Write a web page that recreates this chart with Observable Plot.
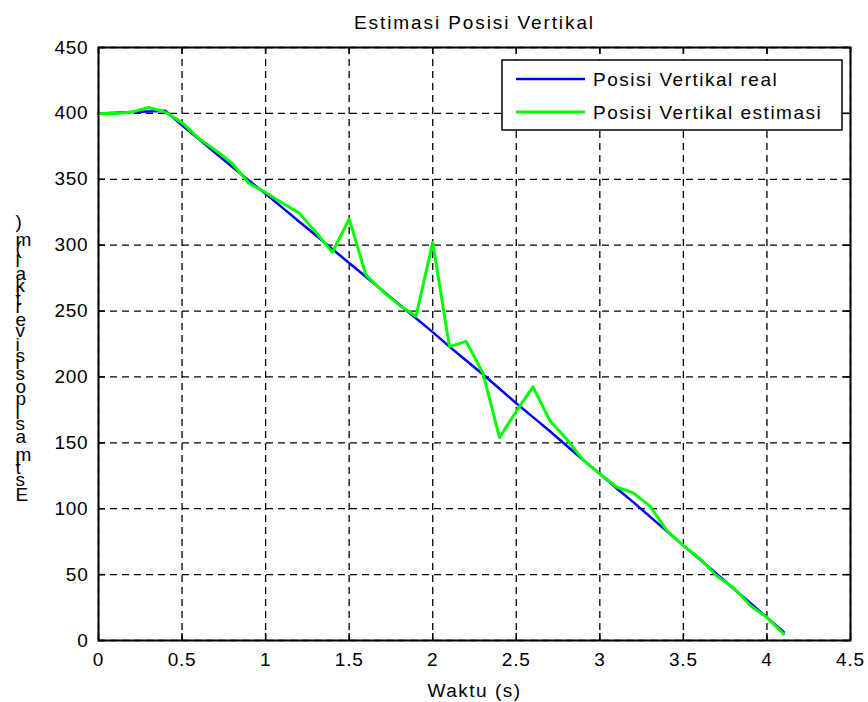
<!DOCTYPE html>
<html>
<head>
<meta charset="utf-8">
<script src="https://cdn.jsdelivr.net/npm/d3@7"></script>
<script src="https://cdn.jsdelivr.net/npm/@observablehq/plot@0.6"></script>
<style>
  html, body { margin: 0; padding: 0; background: #fff; }
  #chart { position: relative; width: 868px; height: 702px; }
  svg { font-family: "Liberation Sans", Arial, sans-serif; }
</style>
</head>
<body>
<div id="chart"></div>
<script>
// ---- data ----
const time = [0, 0.1, 0.2, 0.3, 0.4, 0.5, 0.6, 0.7, 0.8, 0.9,
              1.0, 1.1, 1.2, 1.3, 1.4, 1.5, 1.6, 1.7, 1.8, 1.9,
              2.0, 2.1, 2.2, 2.3, 2.4, 2.5, 2.6, 2.7, 2.8, 2.9,
              3.0, 3.1, 3.2, 3.3, 3.4, 3.5, 3.6, 3.7, 3.8, 3.9,
              4.0, 4.1];
const posReal = [400, 400.5, 401, 401.5, 402, 391, 380.5, 370, 359.5, 349,
                 339, 328.5, 318, 307.5, 297, 286.5, 276, 265.5, 255, 244.5,
                 234, 223, 212.5, 202, 191, 180, 169.5, 159, 148, 137,
                 126.5, 115.5, 105, 94, 83, 72, 61.5, 50.5, 39.5, 28.5,
                 17.5, 6.5];
const posEstimasi = [400, 400, 401, 404.5, 401, 393, 381, 372, 362, 347,
                     340, 332, 324.5, 310, 294.5, 320, 277.5, 265, 254.5, 246,
                     302, 223, 227, 203, 154, 174, 192.5, 167, 153, 137,
                     126.5, 116.5, 112, 102, 83.5, 72, 62, 49, 40, 26.5,
                     17.5, 5];
const seriesNames = ["Posisi Vertikal real", "Posisi Vertikal estimasi"];
const seriesColors = ["#0000ff", "#00ff00"];
const xTicks = [0, 0.5, 1, 1.5, 2, 2.5, 3, 3.5, 4, 4.5];
const yTicks = [0, 50, 100, 150, 200, 250, 300, 350, 400, 450];
const titleText = "Estimasi Posisi Vertikal";
const xLabel = "Waktu (s)";
const yLabel = "Estimasi posisi vertikal (m)";

// ---- build ----
const W = 868, H = 702;
const mL = 98, mR = 18, mT = 47, mB = 62;
const plotW = W - mL - mR, plotH = H - mT - mB;
const FONT = "Liberation Sans, Arial, sans-serif";

const realData = time.map((t, i) => ({t, v: posReal[i]}));
const estData = time.map((t, i) => ({t, v: posEstimasi[i]}));

const plot = Plot.plot({
  width: W, height: H,
  marginLeft: mL, marginRight: mR, marginTop: mT, marginBottom: mB,
  style: {fontFamily: FONT, fontSize: "19px", color: "black", background: "white"},
  x: {domain: [0, 4.5], axis: null},
  y: {domain: [0, 450], axis: null},
  marks: [
    Plot.gridX(xTicks, {stroke: "black", strokeOpacity: 1, strokeWidth: 1.3, strokeDasharray: "7,5"}),
    Plot.gridY(yTicks, {stroke: "black", strokeOpacity: 1, strokeWidth: 1.3, strokeDasharray: "7,5"}),
    // inward ticks on all four sides
    Plot.tickX(xTicks, {x: d => d, insetTop: plotH - 7, stroke: "black", strokeWidth: 1.5}),
    Plot.tickX(xTicks, {x: d => d, insetBottom: plotH - 7, stroke: "black", strokeWidth: 1.5}),
    Plot.tickY(yTicks, {y: d => d, insetRight: plotW - 7, stroke: "black", strokeWidth: 1.5}),
    Plot.tickY(yTicks, {y: d => d, insetLeft: plotW - 7, stroke: "black", strokeWidth: 1.5}),
    // tick labels
    Plot.text(xTicks, {x: d => d, frameAnchor: "bottom", dy: 25, lineAnchor: "bottom", text: d => String(d), fontSize: 19, fill: "black"}),
    Plot.text(yTicks, {y: d => d, frameAnchor: "left", dx: -10, textAnchor: "end", text: d => String(d), fontSize: 19, fill: "black"}),
    Plot.line(realData, {x: "t", y: "v", stroke: seriesColors[0], strokeWidth: 2.5}),
    Plot.line(estData, {x: "t", y: "v", stroke: seriesColors[1], strokeWidth: 3}),
    Plot.frame({stroke: "black", strokeWidth: 2}),
    Plot.text([titleText], {frameAnchor: "top", dy: -19, lineAnchor: "bottom", fontSize: 19, fill: "black"}),
    Plot.text([xLabel], {frameAnchor: "bottom", dy: 56, lineAnchor: "bottom", fontSize: 19, fill: "black"}),
    Plot.text([yLabel], {frameAnchor: "bottom-left", dx: -83, dy: -140, rotate: -90, textAnchor: "start", lineAnchor: "bottom", fontSize: 19, fill: "black"})
  ]
});

const svg = d3.select(plot);
const byText = s => svg.selectAll("text").filter(function () { return this.textContent === s; });
const tickStrings = new Set([...xTicks, ...yTicks].map(String));
svg.selectAll("text").filter(function () { return tickStrings.has(this.textContent); }).style("letter-spacing", "0.8px");
byText(titleText).style("letter-spacing", "1.9px");
byText(xLabel).style("letter-spacing", "1.5px");
byText(yLabel).attr("rotate", "90").style("letter-spacing", "2px");

// legend (MATLAB style box)
const lg = svg.append("g").attr("aria-label", "legend").attr("font-family", FONT)
  .attr("font-size", 19).attr("text-anchor", "start");
lg.append("rect").attr("x", 502).attr("y", 60).attr("width", 340).attr("height", 70)
  .attr("fill", "white").attr("stroke", "black").attr("stroke-width", 1.5);
seriesNames.forEach((name, i) => {
  const y = 79 + i * 33;
  lg.append("line").attr("x1", 516).attr("x2", 585).attr("y1", y).attr("y2", y)
    .attr("stroke", seriesColors[i]).attr("stroke-width", i === 0 ? 2.5 : 3);
  lg.append("text").attr("x", 593).attr("y", y + 7).attr("fill", "black")
    .attr("text-anchor", "start").style("letter-spacing", "1.5px").text(name);
});

document.getElementById("chart").appendChild(plot);
</script>
</body>
</html>
